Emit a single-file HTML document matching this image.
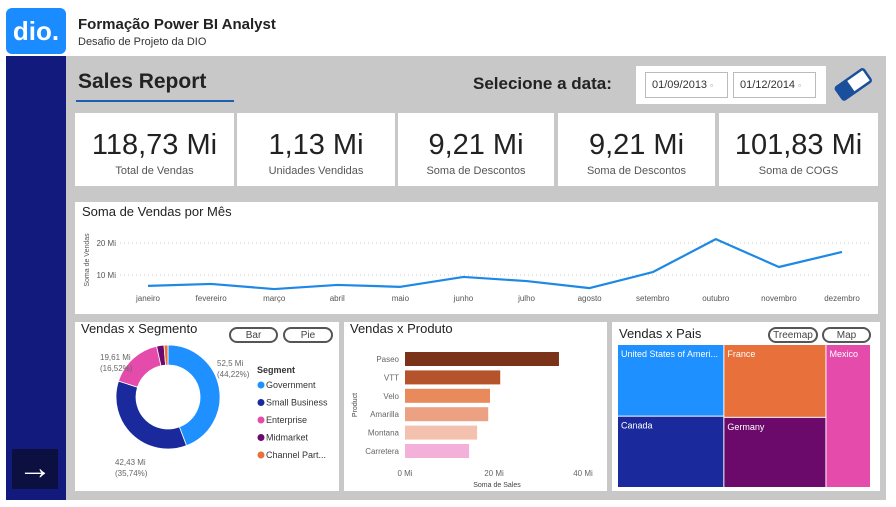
<!DOCTYPE html>
<html><head><meta charset="utf-8"><style>
*{box-sizing:border-box;margin:0;padding:0}
body{width:896px;height:507px;background:#fff;font-family:"Liberation Sans",sans-serif;position:relative;overflow:hidden}
.a{position:absolute}
.card{position:absolute;background:#fff}
.kpi .v{position:absolute;left:0;right:0;top:16px;text-align:center;font-size:29px;color:#222}
.kpi .l{position:absolute;left:0;right:0;top:52px;text-align:center;font-size:11px;color:#555}
.btn{position:absolute;border:2px solid #555;border-radius:10px;font-size:10px;text-align:center;line-height:13px;color:#444;background:#fff}
</style></head><body>
<div class="a" style="left:6px;top:8px;width:60px;height:46px;background:#1a8cff;border-radius:6px;color:#fff;font-weight:bold;font-size:26px;line-height:46px;text-align:center">dio.</div>
<div class="a" style="left:78px;top:16px;font-size:15px;font-weight:bold;color:#222">Formação Power BI Analyst</div>
<div class="a" style="left:78px;top:36px;font-size:11px;color:#333">Desafio de Projeto da DIO</div>
<div class="a" style="left:6px;top:56px;width:60px;height:444px;background:#121a7e"></div>
<div class="a" style="left:12px;top:449px;width:46px;height:40px;background:#0b1040;color:#fff;font-size:34px;line-height:38px;text-align:center">→</div>
<div class="a" style="left:66px;top:56px;width:820px;height:444px;background:#c8c8c8"></div>
<div class="card" style="left:75px;top:63px;width:545px;height:42px;background:#c8c8c8"></div>
<div class="a" style="left:78px;top:70px;font-size:21px;font-weight:bold;color:#222">Sales Report</div>
<div class="a" style="left:76px;top:100px;width:158px;height:2px;background:#1a5fb0"></div>
<div class="a" style="left:473px;top:74px;font-size:17px;font-weight:bold;color:#222">Selecione a data:</div>
<div class="card" style="left:636px;top:66px;width:190px;height:38px"></div>
<div class="a" style="left:645px;top:72px;width:83px;height:26px;border:1px solid #bbb;font-size:11px;line-height:24px;padding-left:6px;color:#333">01/09/2013 <span style="font-size:8px;color:#888">▫</span></div>
<div class="a" style="left:733px;top:72px;width:83px;height:26px;border:1px solid #bbb;font-size:11px;line-height:24px;padding-left:6px;color:#333">01/12/2014 <span style="font-size:8px;color:#888">▫</span></div>
<svg class="a" style="left:832px;top:66px" width="42" height="36"><g transform="rotate(-35 21 18)"><rect x="4" y="11" width="34" height="15" rx="2" fill="#fff" stroke="#1a4f9c" stroke-width="2.5"/><rect x="4" y="11" width="14" height="15" fill="#1a4f9c"/></g></svg>

<div class="card kpi" style="left:75px;top:113px;width:159px;height:73px"><div class="v">118,73 Mi</div><div class="l">Total de Vendas</div></div>
<div class="card kpi" style="left:237px;top:113px;width:158px;height:73px"><div class="v">1,13 Mi</div><div class="l">Unidades Vendidas</div></div>
<div class="card kpi" style="left:398px;top:113px;width:156px;height:73px"><div class="v">9,21 Mi</div><div class="l">Soma de Descontos</div></div>
<div class="card kpi" style="left:558px;top:113px;width:157px;height:73px"><div class="v">9,21 Mi</div><div class="l">Soma de Descontos</div></div>
<div class="card kpi" style="left:719px;top:113px;width:159px;height:73px"><div class="v">101,83 Mi</div><div class="l">Soma de COGS</div></div>

<div class="card" style="left:75px;top:202px;width:803px;height:112px"></div>
<div class="a" style="left:82px;top:204px;font-size:13px;color:#222">Soma de Vendas por Mês</div>
<svg class="a" id="line" style="left:0;top:0" width="896" height="507"></svg>

<div class="card" style="left:75px;top:322px;width:264px;height:169px"></div>
<div class="a" style="left:81px;top:321px;font-size:13px;color:#222">Vendas x Segmento</div>
<div class="btn" style="left:229px;top:327px;width:49px;height:16px">Bar</div>
<div class="btn" style="left:283px;top:327px;width:50px;height:16px">Pie</div>
<svg class="a" id="donut" style="left:0;top:0" width="896" height="507"></svg>

<div class="card" style="left:344px;top:322px;width:263px;height:169px"></div>
<div class="a" style="left:350px;top:321px;font-size:13px;color:#222">Vendas x Produto</div>
<svg class="a" id="bars" style="left:0;top:0" width="896" height="507"></svg>

<div class="card" style="left:612px;top:322px;width:268px;height:169px"></div>
<div class="a" style="left:619px;top:326px;font-size:13px;color:#222">Vendas x Pais</div>
<div class="btn" style="left:768px;top:327px;width:50px;height:16px">Treemap</div>
<div class="btn" style="left:822px;top:327px;width:49px;height:16px">Map</div>
<svg class="a" id="tree" style="left:0;top:0" width="896" height="507"></svg>

<script>
const NS="http://www.w3.org/2000/svg";
function mk(p,t,a,txt){const e=document.createElementNS(NS,t);for(const k in a)e.setAttribute(k,a[k]);if(txt!=null)e.textContent=txt;p.appendChild(e);return e;}
// line chart data
const months=["janeiro","fevereiro","março","abril","maio","junho","julho","agosto","setembro","outubro","novembro","dezembro"];
const monthSales=[6.6,7.2,5.6,6.9,6.3,9.4,8.1,5.9,10.9,21.2,12.5,17.2];
const yTicks=[10,20];
// donut data
const segments=["Government","Small Business","Enterprise","Midmarket","Channel Part..."];
const segShare=[44.22,35.74,16.52,2.3,1.22];
const segColors=["#1e90ff","#1a2a9c","#e54bab","#6b0a6b","#e8703a"];
// bar data
const products=["Paseo","VTT","Velo","Amarilla","Montana","Carretera"];
const productSales=[34.6,21.4,19.1,18.7,16.2,14.4];
const barColors=["#7a3318","#b5542c","#e88a5c","#eda183","#f3c1ae","#f3b0d9"];
const xTicks=[0,20,40];
// treemap data
const countries=["United States of Ameri...","France","Mexico","Canada","Germany"];
const countrySales=[25.0,24.4,20.9,24.9,23.5];
const treeColors=["#1e90ff","#e8703a","#e54bab","#1a2a9c","#6b0a6b"];

// line
const L=document.getElementById('line');
const lx=i=>148+i*(842-148)/11, ly=v=>307-v*3.2;
yTicks.forEach(t=>{const g=mk(L,'line',{x1:120,x2:872,y1:ly(t),y2:ly(t),stroke:'#ccc','stroke-dasharray':'1 3'});

const tx=mk(L,'text',{x:116,y:ly(t)+3,'font-size':8,fill:'#555','text-anchor':'end'},t+' Mi');
});
const yt=mk(L,'text',{x:0,y:0,'font-size':7,fill:'#555','text-anchor':'middle',transform:'translate(89,260) rotate(-90)'},'Soma de Vendas');

months.forEach((m,i)=>{const t=mk(L,'text',{x:lx(i),y:301,'font-size':8,fill:'#555','text-anchor':'middle'},m);
});
const pl=mk(L,'polyline',{points:monthSales.map((v,i)=>lx(i)+','+ly(v)).join(' '),fill:'none',stroke:'#1e88e5','stroke-width':2.2,'stroke-linejoin':'round'});


// donut
const D=document.getElementById('donut');const cx=168,cy=397,R=52,r=32;
const tot=segShare.reduce((a,b)=>a+b,0);let ang=0;
segShare.forEach((s,i)=>{const a0=ang,a1=ang+s/tot*2*Math.PI;ang=a1;
const p=(a,rr)=>[cx+rr*Math.sin(a),cy-rr*Math.cos(a)];const big=(a1-a0)>Math.PI?1:0;
const [x0,y0]=p(a0,R),[x1,y1]=p(a1,R),[x2,y2]=p(a1,r),[x3,y3]=p(a0,r);
const e=mk(D,'path',{d:`M${x0},${y0}A${R},${R} 0 ${big} 1 ${x1},${y1}L${x2},${y2}A${r},${r} 0 ${big} 0 ${x3},${y3}Z`,fill:segColors[i],stroke:'#fff','stroke-width':0.8});

const lg=mk(D,'circle',{cx:261,cy:385+i*17.5,r:3.5,fill:segColors[i]});

const lt=mk(D,'text',{x:266,y:388+i*17.5,'font-size':9,fill:'#333'},segments[i]);
});
const lh=mk(D,'text',{x:257,y:373,'font-size':9,'font-weight':'bold',fill:'#333'},'Segment');

[[217,366,'52,5 Mi'],[217,377,'(44,22%)'],[100,360,'19,61 Mi'],[100,371,'(16,52%)'],[115,465,'42,43 Mi'],[115,476,'(35,74%)']].forEach(d=>{
const t=mk(D,'text',{x:d[0],y:d[1],'font-size':8,fill:'#666'},d[2]);});

// bars
const B=document.getElementById('bars');const bx=v=>405+v*4.45;
xTicks.forEach(t=>{const e=mk(B,'text',{x:bx(t),y:476,'font-size':8,fill:'#666','text-anchor':'middle'},t+' Mi');
});
products.forEach((p,i)=>{const y=352+i*18.4;
const rc=mk(B,'rect',{x:bx(0),y:y,width:bx(productSales[i])-bx(0),height:14,fill:barColors[i]});

const t=mk(B,'text',{x:399,y:y+10,'font-size':8,fill:'#666','text-anchor':'end'},p);
});
const xa=mk(B,'text',{x:497,y:487,'font-size':7,fill:'#444','text-anchor':'middle'},'Soma de Sales');

const ya=mk(B,'text',{x:0,y:0,'font-size':7,fill:'#444','text-anchor':'middle',transform:'translate(357,405) rotate(-90)'},'Product');


// treemap: columns [US,Canada], [France,Germany], [Mexico]
const T=document.getElementById('tree');const x0=618,x1=871,y0=345,y1=488;
const all=countrySales.reduce((a,b)=>a+b,0);
const cols=[[0,3],[1,4],[2]];let cxp=x0;
cols.forEach(c=>{const cs=c.reduce((a,k)=>a+countrySales[k],0);const w=(x1-x0)*cs/all;let cyp=y0;
c.forEach(k=>{const h=(y1-y0)*countrySales[k]/cs;
const rc=mk(T,'rect',{x:cxp,y:cyp,width:w-1,height:h-1,fill:treeColors[k]});

const tx=mk(T,'text',{x:cxp+3,y:cyp+12,'font-size':9,fill:'#fff'},countries[k]);

cyp+=h;});cxp+=w;});
</script>
</body></html>
